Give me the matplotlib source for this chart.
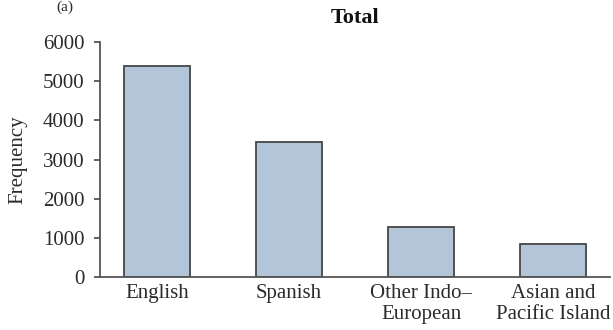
import matplotlib
matplotlib.use("Agg")
import matplotlib.pyplot as plt

# data
languages = ["English", "Spanish", "Other Indo\u2013\nEuropean", "Asian and\nPacific Island"]
frequency = [5400, 3450, 1280, 850]
y_ticks = [0, 1000, 2000, 3000, 4000, 5000, 6000]

plt.rcParams["font.family"] = ["Liberation Serif", "DejaVu Serif"]
text_col = "#2b2b2b"
axis_col = "#555555"

fig = plt.figure(figsize=(6.13, 3.3), dpi=100)
ax = fig.add_axes([0.1631, 0.1606, 0.8319, 0.7121])

x = range(len(languages))
ax.bar(x, frequency, width=0.5, color="#b3c5d8", edgecolor="#454545", linewidth=1.3, zorder=2)

ax.set_xlim(-0.43, 3.43)
ax.set_ylim(0, 6000)
ax.set_yticks(y_ticks)
ax.set_xticks(list(x))
ax.set_xticklabels(languages, fontsize=15, color=text_col, linespacing=1.15)
ax.tick_params(axis="y", labelsize=15, colors=text_col, length=4, width=1.3, color=axis_col, pad=7)
ax.tick_params(axis="x", length=0, pad=5)

for s in ["top", "right"]:
    ax.spines[s].set_visible(False)
for s in ["left", "bottom"]:
    ax.spines[s].set_color(axis_col)
    ax.spines[s].set_linewidth(1.3)

ax.set_ylabel("Frequency", fontsize=15, color=text_col, labelpad=11)
ax.set_title("Total", fontsize=16, fontweight="bold", color="#111111", pad=14)

# panel letter in the top-left corner
fig.text(0.106, 0.998, "(a)", fontsize=11, color=text_col, ha="center", va="top")

fig.savefig("out.png", dpi=100)
